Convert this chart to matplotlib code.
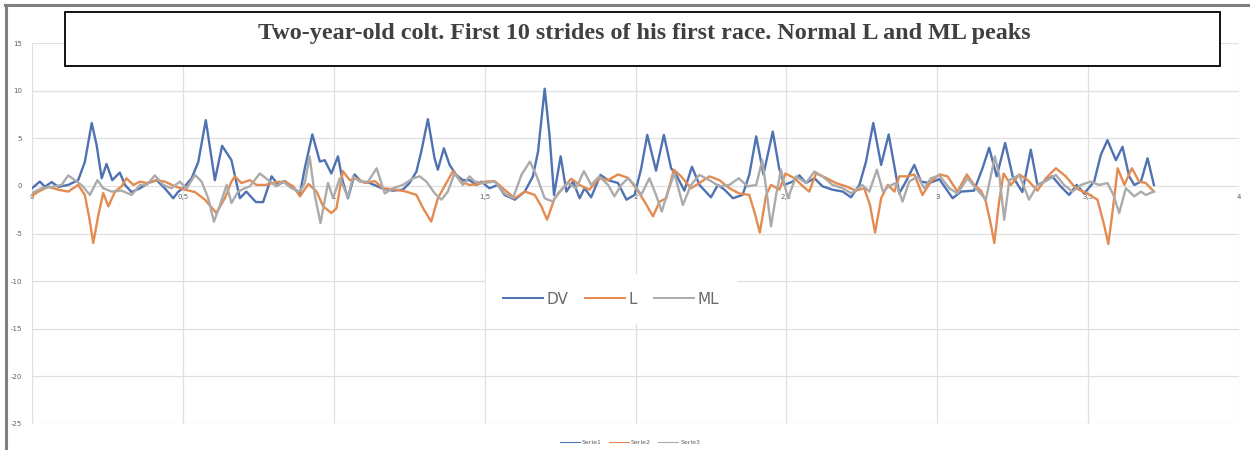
import matplotlib.pyplot as plt
from matplotlib.lines import Line2D
from matplotlib.patches import Rectangle

plt.rcParams["axes.unicode_minus"] = False

# values (time in s, acceleration)
dv_x = [0.0, 0.026, 0.043, 0.065, 0.087, 0.12, 0.153, 0.175, 0.198, 0.214, 0.231, 0.247, 0.266, 0.291,
        0.308, 0.33, 0.358, 0.385, 0.413, 0.44, 0.468, 0.485, 0.501, 0.529, 0.551, 0.576, 0.606, 0.63,
        0.661, 0.689, 0.71, 0.742, 0.766, 0.794, 0.816, 0.838, 0.866, 0.888, 0.904, 0.929, 0.954, 0.97,
        0.992, 1.014, 1.03, 1.047, 1.069, 1.091, 1.119, 1.163, 1.196, 1.229, 1.251, 1.274, 1.29, 1.312,
        1.334, 1.345, 1.365, 1.384, 1.406, 1.428, 1.45, 1.473, 1.489, 1.516, 1.544, 1.566, 1.6, 1.633,
        1.66, 1.677, 1.699, 1.715, 1.73, 1.752, 1.771, 1.793, 1.815, 1.831, 1.853, 1.884, 1.909, 1.942,
        1.97, 1.997, 2.019, 2.039, 2.068, 2.094, 2.118, 2.135, 2.162, 2.187, 2.212, 2.25, 2.273, 2.295,
        2.323, 2.355, 2.377, 2.4, 2.424, 2.455, 2.476, 2.493, 2.521, 2.543, 2.565, 2.593, 2.62, 2.653,
        2.687, 2.714, 2.742, 2.764, 2.788, 2.814, 2.839, 2.863, 2.874, 2.896, 2.924, 2.946, 2.974, 3.007,
        3.051, 3.079, 3.122, 3.15, 3.172, 3.197, 3.225, 3.25, 3.282, 3.31, 3.332, 3.355, 3.381, 3.409,
        3.437, 3.462, 3.487, 3.52, 3.542, 3.564, 3.592, 3.614, 3.636, 3.653, 3.675, 3.697, 3.718]
dv_y = [-0.25, 0.45, -0.1, 0.4, -0.1, 0.1, 0.6, 2.5, 6.6, 4.3, 0.8, 2.3, 0.6, 1.4,
        0.1, -0.65, -0.25, 0.3, 0.6, -0.25, -1.3, -0.6, -0.25, 0.8, 2.5, 6.9, 0.6, 4.2,
        2.7, -1.3, -0.6, -1.7, -1.7, 1.0, 0.1, 0.5, -0.25, -0.8, 1.85, 5.4, 2.55, 2.7,
        1.3, 3.1, 0.45, -1.3, 1.2, 0.45, 0.3, -0.3, -0.5, -0.4, 0.3, 1.5, 3.6, 7.0,
        2.9, 1.7, 3.95, 2.2, 1.15, 0.6, 0.6, 0.1, 0.45, -0.25, 0.1, -0.95, -1.45, -0.6,
        1.0, 3.6, 10.2, 5.35, -0.95, 3.1, -0.6, 0.45, -1.3, -0.25, -1.2, 1.15, 0.6, 0.3,
        -1.45, -0.95, 1.85, 5.35, 1.6, 5.35, 1.85, 1.15, -0.5, 2.0, 0.1, -1.2, 0.1, -0.4,
        -1.3, -0.95, 1.15, 5.2, 1.2, 5.7, 1.85, 0.1, 0.45, 1.1, 0.3, 0.8, -0.05, -0.4,
        -0.6, -1.2, 0.1, 2.55, 6.6, 2.2, 5.4, 1.15, -0.8, 0.45, 2.2, 0.45, 0.3, 0.7,
        -1.3, -0.6, -0.5, 1.85, 4.0, 1.0, 4.5, 1.0, -0.65, 3.8, 0.1, 0.45, 1.0, -0.05,
        -0.95, 0.1, -0.8, 0.45, 3.25, 4.8, 2.7, 4.1, 1.0, 0.1, 0.45, 2.9, 0.1]

l_x = [0.0, 0.021, 0.054, 0.087, 0.12, 0.153, 0.175, 0.19, 0.203, 0.22, 0.236, 0.253, 0.275, 0.297,
       0.313, 0.336, 0.358, 0.38, 0.413, 0.44, 0.474, 0.507, 0.54, 0.573, 0.611, 0.639, 0.661, 0.672,
       0.694, 0.722, 0.744, 0.774, 0.81, 0.838, 0.866, 0.888, 0.916, 0.943, 0.965, 0.992, 1.009, 1.03,
       1.053, 1.075, 1.103, 1.136, 1.163, 1.207, 1.24, 1.274, 1.296, 1.323, 1.345, 1.367, 1.395, 1.422,
       1.45, 1.483, 1.5, 1.533, 1.566, 1.6, 1.633, 1.666, 1.688, 1.707, 1.732, 1.759, 1.787, 1.814,
       1.847, 1.88, 1.909, 1.942, 1.975, 2.002, 2.03, 2.058, 2.08, 2.102, 2.127, 2.151, 2.184, 2.212,
       2.245, 2.278, 2.311, 2.344, 2.377, 2.397, 2.412, 2.433, 2.449, 2.477, 2.497, 2.527, 2.555, 2.576,
       2.598, 2.631, 2.664, 2.698, 2.73, 2.758, 2.777, 2.794, 2.814, 2.836, 2.858, 2.874, 2.902, 2.924,
       2.951, 2.979, 3.007, 3.034, 3.067, 3.098, 3.122, 3.145, 3.161, 3.178, 3.189, 3.205, 3.22, 3.244,
       3.272, 3.3, 3.332, 3.36, 3.393, 3.426, 3.459, 3.498, 3.531, 3.553, 3.567, 3.581, 3.598, 3.62,
       3.645, 3.669, 3.691, 3.718]
l_y = [-1.05, -0.6, -0.1, -0.4, -0.6, 0.1, -0.95, -3.4, -6.0, -3.05, -0.75, -2.15, -0.6, -0.05,
       0.8, 0.1, 0.45, 0.3, 0.6, 0.45, -0.05, -0.4, -0.65, -1.45, -2.85, -1.3, 0.45, 1.0,
       0.3, 0.6, 0.1, 0.1, 0.4, 0.45, -0.05, -1.1, 0.2, -0.6, -2.15, -2.85, -2.35, 1.55,
       0.6, 0.8, 0.3, 0.5, -0.25, -0.4, -0.6, -0.95, -2.35, -3.75, -1.3, -0.05, 1.55, 0.45,
       0.1, 0.2, 0.45, 0.5, -0.4, -1.3, -0.6, -0.95, -2.15, -3.55, -1.3, -0.25, 0.75, 0.1,
       -0.4, 0.8, 0.6, 1.2, 0.85, -0.25, -1.65, -3.2, -1.65, -1.3, 1.7, 1.0, -0.25, 0.3,
       1.0, 0.6, -0.25, -0.8, -0.95, -3.05, -4.9, -0.95, 0.1, -0.4, 1.3, 0.8, -0.05, -0.6,
       1.3, 0.85, 0.3, -0.05, -0.5, -0.25, -2.0, -4.9, -1.3, 0.1, -0.6, 1.0, 1.0, 1.2,
       -0.95, 0.45, 1.2, 1.0, -0.6, 1.2, 0.1, -0.5, -1.65, -4.1, -6.0, -1.65, 1.3, 0.1,
       1.2, 0.6, -0.5, 0.8, 1.85, 1.0, -0.25, -0.8, -1.45, -4.1, -6.1, -2.7, 1.85, 0.1,
       1.85, 0.45, 0.3, -0.6]

ml_x = [0.0, 0.032, 0.076, 0.098, 0.12, 0.142, 0.164, 0.192, 0.217, 0.236, 0.264, 0.297, 0.33, 0.358,
        0.38, 0.407, 0.435, 0.462, 0.49, 0.512, 0.54, 0.562, 0.584, 0.603, 0.623, 0.645, 0.661, 0.683,
        0.705, 0.722, 0.755, 0.783, 0.81, 0.832, 0.86, 0.888, 0.904, 0.92, 0.937, 0.956, 0.981, 0.998,
        1.02, 1.047, 1.064, 1.086, 1.114, 1.142, 1.169, 1.196, 1.229, 1.263, 1.285, 1.307, 1.335, 1.357,
        1.378, 1.4, 1.428, 1.45, 1.467, 1.5, 1.533, 1.566, 1.594, 1.622, 1.65, 1.671, 1.699, 1.726,
        1.748, 1.776, 1.803, 1.829, 1.853, 1.88, 1.909, 1.93, 1.953, 1.975, 1.997, 2.019, 2.046, 2.068,
        2.087, 2.107, 2.129, 2.157, 2.184, 2.212, 2.245, 2.278, 2.311, 2.342, 2.372, 2.4, 2.42, 2.433,
        2.449, 2.466, 2.482, 2.505, 2.532, 2.565, 2.593, 2.62, 2.653, 2.687, 2.716, 2.751, 2.775, 2.8,
        2.82, 2.839, 2.863, 2.885, 2.907, 2.935, 2.957, 2.979, 3.007, 3.04, 3.067, 3.1, 3.128, 3.161,
        3.191, 3.206, 3.222, 3.239, 3.272, 3.304, 3.332, 3.365, 3.393, 3.42, 3.448, 3.476, 3.509, 3.536,
        3.564, 3.584, 3.603, 3.625, 3.653, 3.675, 3.691, 3.718]
ml_y = [-0.75, -0.25, -0.05, 0.1, 1.1, 0.6, 0.1, -0.95, 0.6, -0.25, -0.6, -0.5, -0.95, 0.1,
        0.1, 1.1, 0.1, -0.25, 0.45, -0.3, 1.15, 0.45, -1.3, -3.75, -2.0, 0.1, -1.8, -0.6,
        -0.25, -0.05, 1.3, 0.6, -0.05, 0.45, -0.25, -0.6, 0.3, 3.1, -0.95, -3.9, 0.3, -1.3,
        0.8, -1.2, 1.0, 0.45, 0.45, 1.85, -0.8, -0.25, 0.1, 0.8, 1.0, 0.45, -0.8, -1.45,
        -0.6, 1.3, 0.1, 1.0, 0.45, 0.3, 0.45, -0.8, -1.3, 1.15, 2.55, 1.15, -1.3, -1.65,
        -0.6, 0.3, -0.25, 1.55, 0.1, 1.0, 0.1, -1.1, 0.1, 0.8, 0.1, -0.95, 0.8, -0.95,
        -2.7, -0.6, 1.3, -2.0, 0.1, 1.15, 0.6, -0.05, 0.1, 0.8, -0.05, 0.1, 2.7, -0.25,
        -4.25, -0.95, 1.7, -1.3, 1.0, 0.3, 1.5, 1.0, 0.1, -0.25, -0.8, 0.1, -0.6, 1.7,
        -0.6, -0.05, 0.3, -1.65, 0.45, 1.0, -0.25, 0.8, 1.1, -0.25, -0.8, 0.8, -0.25, -1.45,
        3.1, 1.0, -3.55, 0.6, 1.15, -1.45, 0.1, 0.6, 1.15, 0.1, -0.6, 0.1, 0.45, 0.1,
        0.3, -0.95, -2.85, -0.25, -1.1, -0.6, -0.95, -0.6]

x_ticks = [0, 0.5, 1, 1.5, 2, 2.5, 3, 3.5, 4]
x_tick_labels = ["0", "0,5", "1", "1,5", "2", "2,5", "3", "3,5", "4"]
y_ticks = [-25, -20, -15, -10, -5, 0, 5, 10, 15]

title = "Two-year-old colt. First 10 strides of his first race. Normal L and ML peaks"

fig = plt.figure(figsize=(12.5, 4.5), dpi=100)
ax = fig.add_axes([32 / 1250, 1 - 424 / 450, (1239 - 32) / 1250, (424 - 43) / 450])

l1, = ax.plot(dv_x, dv_y, color="#4f72b2", lw=1.7, solid_joinstyle="round")
l2, = ax.plot(l_x, l_y, color="#e48b52", lw=1.7, solid_joinstyle="round")
l3, = ax.plot(ml_x, ml_y, color="#ababab", lw=1.7, solid_joinstyle="round")

ax.set_xlim(0, 4)
ax.set_ylim(-25, 15)
ax.set_xticks(x_ticks)
ax.set_xticklabels(x_tick_labels)
ax.set_yticks(y_ticks)
ax.grid(True, color="#e0e0e0", lw=0.9)
ax.set_axisbelow(True)
for s in ax.spines.values():
    s.set_visible(False)
ax.spines["bottom"].set_position(("data", 0))
ax.tick_params(length=0, labelsize=5, labelcolor="#606060")
ax.tick_params(axis="x", pad=6)
ax.tick_params(axis="y", pad=7)

# inner legend (DV / L / ML)
leg = ax.legend([l1, l2, l3], ["DV", "L", "ML"], ncol=3, loc="center",
                bbox_to_anchor=(611 / 1250, 1 - 299 / 450), bbox_transform=fig.transFigure,
                frameon=True, facecolor="white", edgecolor="white", framealpha=1,
                fontsize=11, handlelength=2.6, handletextpad=0.25, columnspacing=1.1,
                borderpad=1.1, labelcolor="#6a6a6a", fancybox=False)
for h in leg.get_lines():
    h.set_linewidth(1.4)
leg.set_zorder(5)
ax.add_artist(leg)

# small bottom legend
leg2 = ax.legend([l1, l2, l3], ["Serie1", "Serie2", "Serie3"], ncol=3, loc="center",
                 bbox_to_anchor=(630 / 1250, 1 - 442 / 450), bbox_transform=fig.transFigure,
                 frameon=False, fontsize=4.5, handlelength=3.2, handletextpad=0.3,
                 columnspacing=1.2, labelcolor="#606060")
for h in leg2.get_lines():
    h.set_linewidth(0.8)

# title box
fig.patches.append(Rectangle((65 / 1250, 1 - 66 / 450), (1220 - 65) / 1250, 54 / 450,
                             transform=fig.transFigure, facecolor="white", edgecolor="black",
                             lw=1.3, zorder=10))
fig.text(644 / 1250, 1 - 33 / 450, title, ha="center", va="center",
         family="Liberation Serif", fontweight="bold", fontsize=17.4, color="#404040", zorder=11)

# gray frame at top and left
fig.add_artist(Line2D([6 / 1250, 6 / 1250], [0, 1 - 5 / 450], color="#7f7f7f", lw=2.2,
                      transform=fig.transFigure))
fig.add_artist(Line2D([5 / 1250, 1], [1 - 5 / 450, 1 - 5 / 450], color="#7f7f7f", lw=2.2,
                      transform=fig.transFigure))

plt.savefig("out.png", dpi=100)
